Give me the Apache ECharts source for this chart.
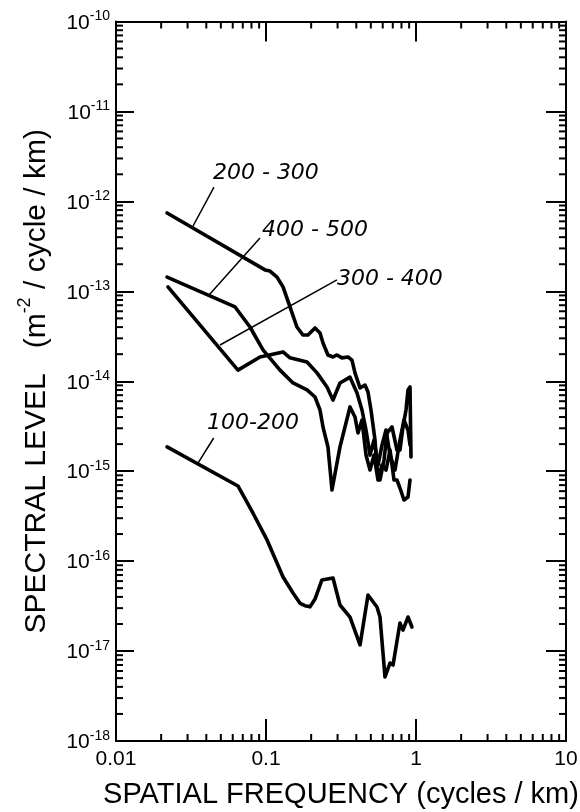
<!DOCTYPE html>
<html><head><meta charset="utf-8">
<script src="https://cdn.jsdelivr.net/npm/echarts@6/dist/echarts.min.js"></script>
<style>html,body{margin:0;padding:0;background:#fff}#c{width:580px;height:812px}</style>
</head><body><div id="c"></div>
<script>
// ---- data (spatial frequency in cycles/km, spectral level in m^-2/cycle/km) ----
const freq_100_200 = [0.0219,0.065,0.0818,0.1016,0.1184,0.1299,0.1514,0.1686,0.182,0.1965,0.2122,0.236,0.2797,0.3113,0.3631,0.4236,0.4786,0.5495,0.5754,0.6213,0.6714,0.7031,0.7818,0.8188,0.8844,0.9397];
const level_100_200 = [1.86e-15,6.85e-16,3.43e-16,1.72e-16,9.53e-17,6.67e-17,4.42e-17,3.4e-17,3.2e-17,3.1e-17,3.79e-17,6.17e-17,6.5e-17,3.25e-17,2.39e-17,1.17e-17,4.2e-17,3.09e-17,2.39e-17,5.15e-18,7.37e-18,7e-18,2.05e-17,1.71e-17,2.39e-17,1.85e-17];

const freq_200_300 = [0.0219,0.0985,0.1063,0.1184,0.1299,0.1445,0.1608,0.1763,0.1905,0.2122,0.2291,0.2399,0.2588,0.2797,0.2972,0.3212,0.3521,0.3743,0.3919,0.4236,0.4571,0.4786,0.5012,0.533,0.5495,0.5754,0.6119,0.6408,0.6918,0.7467,0.7818,0.8188,0.8577,0.8844,0.912,0.9261];
const level_200_300 = [7.43e-13,1.73e-13,1.68e-13,1.44e-13,1.12e-13,6.7e-14,4.01e-14,3.27e-14,3.27e-14,3.91e-14,3.44e-14,2.66e-14,1.96e-14,1.86e-14,1.96e-14,1.82e-14,1.86e-14,1.72e-14,1.24e-14,8.41e-15,9.08e-15,7.6e-15,4.79e-15,2.22e-15,1.11e-15,7.98e-16,1.33e-15,2.66e-15,3.1e-15,1.72e-15,1.72e-15,3.1e-15,4.79e-15,8e-15,8.63e-15,1.44e-15];

const freq_300_400 = [0.0222,0.065,0.0912,0.1299,0.1445,0.1877,0.2188,0.2551,0.2797,0.3113,0.3631,0.4043,0.4365,0.4642,0.4937,0.5248,0.558,0.5933,0.631,0.6714,0.7244,0.7818,0.8318,0.8844,0.912];
const level_300_400 = [1.12e-13,1.33e-14,1.86e-14,2.12e-14,1.82e-14,1.64e-14,1.24e-14,8.63e-15,6.18e-15,9.57e-15,1.11e-14,7.4e-15,4.79e-15,2.87e-15,1.51e-15,2.22e-15,1.17e-15,1.95e-15,2.87e-15,1.51e-15,1.03e-15,2.22e-15,3.71e-15,2.87e-15,1.95e-15];

const freq_400_500 = [0.0219,0.0622,0.0782,0.0955,0.124,0.1514,0.1877,0.2122,0.2291,0.2399,0.2588,0.2754,0.3113,0.3631,0.3919,0.4105,0.4365,0.4642,0.4937,0.5248,0.558,0.5933,0.631,0.6714,0.7135,0.7467,0.7818,0.8318,0.8844,0.912];
const level_400_500 = [1.44e-13,6.7e-14,4.01e-14,2.23e-14,1.33e-14,9.57e-15,8e-15,6.68e-15,4.79e-15,3.1e-15,1.86e-15,6.18e-16,1.86e-15,5.18e-15,4.01e-15,2.66e-15,3.71e-15,1.51e-15,1.03e-15,1.51e-15,7.98e-16,1.17e-15,1.03e-15,1.72e-15,7.98e-16,7.98e-16,6.5e-16,4.78e-16,5.17e-16,7.98e-16];

const seriesNames = ['100-200','200-300','300-400','400-500'];
const labelTexts = ['100-200','200 - 300','300 - 400','400 - 500'];
// leader line [freq1, level1, freq2, level2] and label anchor [freq, level]
const leaderLines = [
  [0.0352,1.23e-15,0.0448,2.34e-15],
  [0.0321,5.06e-13,0.045,1.44e-12],
  [0.0494,2.53e-14,0.2972,1.34e-13],
  [0.0417,9.1e-14,0.0912,3.92e-13]
];
const labelAnchors = [
  [0.0404,3.44e-15],
  [0.0443,2.07e-12],
  [0.2972,1.37e-13],
  [0.094,4.8e-13]
];

const xTickLabels = ['0.01','0.1','1','10'];
const xMin = 0.01, xMax = 10, yMin = 1e-18, yMax = 1e-10;
const minorMults = [2,3,4,5,6,7,8,9];
const xDecades = [0.01,0.1,1];
const yDecades = [1e-18,1e-17,1e-16,1e-15,1e-14,1e-13,1e-12,1e-11];

const pairs = (f, l) => f.map((v, i) => [v, l[i]]);
const seriesData = [
  pairs(freq_100_200, level_100_200),
  pairs(freq_200_300, level_200_300),
  pairs(freq_300_400, level_300_400),
  pairs(freq_400_500, level_400_500)
];

const minorData = [];
xDecades.forEach(d => minorMults.forEach(m => minorData.push([d*m, yMin, 0])));
yDecades.forEach(d => minorMults.forEach(m => minorData.push([xMin, d*m, 1])));

const BLACK = '#000';
const SANS = '"Liberation Sans", Arial, sans-serif';
const chart = echarts.init(document.getElementById('c'), null, {renderer:'canvas'});

const axisCommon = {
  type:'log', logBase:10,
  axisLine:{show:true, lineStyle:{color:BLACK, width:2}},
  splitLine:{show:false}, minorTick:{show:false}, minorSplitLine:{show:false}
};

const option = {
  animation:false,
  backgroundColor:'#fff',
  grid:{left:116, right:14, top:21.5, bottom:71, containLabel:false, outerBoundsMode:'none'},
  xAxis:[
    Object.assign({}, axisCommon, {
      position:'bottom', min:xMin, max:xMax, splitNumber:3,
      axisTick:{show:true, inside:true, length:22, lineStyle:{color:BLACK, width:2}},
      axisLabel:{show:true, margin:8, color:BLACK, fontFamily:SANS, fontSize:21,
        showMinLabel:true, showMaxLabel:true,
        formatter: v => xTickLabels[Math.round(Math.log10(v)) + 2]},
      name:'SPATIAL FREQUENCY (cycles / km)', nameLocation:'middle', nameGap:39,
      nameTextStyle:{color:BLACK, fontFamily:SANS, fontSize:29}
    }),
    Object.assign({}, axisCommon, {
      position:'top', min:xMin, max:xMax, splitNumber:3,
      axisTick:{show:true, inside:true, length:20, lineStyle:{color:BLACK, width:2}},
      axisLabel:{show:false}
    })
  ],
  yAxis:[
    Object.assign({}, axisCommon, {
      position:'left', min:yMin, max:yMax, splitNumber:8,
      axisTick:{show:true, inside:true, length:18, lineStyle:{color:BLACK, width:2}},
      axisLabel:{show:true, margin:6, color:BLACK, showMinLabel:true, showMaxLabel:true,
        formatter: v => '{b|10}{s|' + Math.round(Math.log10(v)) + '}',
        rich:{
          b:{fontFamily:SANS, fontSize:21, color:BLACK, lineHeight:24, verticalAlign:'bottom'},
          s:{fontFamily:SANS, fontSize:14, color:BLACK, lineHeight:24, verticalAlign:'top'}
        }},
      name:'{t|SPECTRAL LEVEL   (m}{s|-2}{t| / cycle / km)}', nameLocation:'middle', nameGap:64, nameRotate:90,
      nameTextStyle:{color:BLACK, rich:{
        t:{fontFamily:SANS, fontSize:30, color:BLACK, lineHeight:36, verticalAlign:'bottom'},
        s:{fontFamily:SANS, fontSize:18, color:BLACK, lineHeight:36, verticalAlign:'top'}
      }}
    }),
    Object.assign({}, axisCommon, {
      position:'right', min:yMin, max:yMax, splitNumber:8,
      axisTick:{show:true, inside:true, length:20, lineStyle:{color:BLACK, width:2}},
      axisLabel:{show:false}
    })
  ],
  series: [
    ...seriesData.map((d, i) => ({
      name:seriesNames[i], type:'line', xAxisIndex:0, yAxisIndex:0, data:d,
      showSymbol:false, symbol:'none', smooth:false, clip:false,
      lineStyle:{color:BLACK, width:3.6, join:'round', cap:'round'}
    })),
    {
      name:'minorTicks', type:'custom', xAxisIndex:0, yAxisIndex:0, data:minorData, clip:false, silent:true,
      encode:{x:0, y:1},
      renderItem:(params, api) => {
        const kind = api.value(2);
        const st = {stroke:BLACK, lineWidth:2};
        if (kind === 0) {
          const v = api.value(0);
          const b = api.coord([v, yMin]), t = api.coord([v, yMax]);
          return {type:'group', children:[
            {type:'line', shape:{x1:b[0], y1:b[1], x2:b[0], y2:b[1]-7}, style:st},
            {type:'line', shape:{x1:t[0], y1:t[1], x2:t[0], y2:t[1]+7}, style:st}
          ]};
        } else {
          const v = api.value(1);
          const l = api.coord([xMin, v]), r = api.coord([xMax, v]);
          return {type:'group', children:[
            {type:'line', shape:{x1:l[0], y1:l[1], x2:l[0]+7, y2:l[1]}, style:st},
            {type:'line', shape:{x1:r[0], y1:r[1], x2:r[0]-7, y2:r[1]}, style:st}
          ]};
        }
      }
    },
    {
      name:'annotations', type:'custom', xAxisIndex:0, yAxisIndex:0, clip:false, silent:true,
      data: leaderLines.map((l, i) => [l[0], l[1], l[2], l[3], labelAnchors[i][0], labelAnchors[i][1], i]),
      encode:{x:[0,2,4], y:[1,3,5]},
      renderItem:(params, api) => {
        const p1 = api.coord([api.value(0), api.value(1)]);
        const p2 = api.coord([api.value(2), api.value(3)]);
        const pt = api.coord([api.value(4), api.value(5)]);
        const idx = api.value(6);
        return {type:'group', children:[
          {type:'line', shape:{x1:p1[0], y1:p1[1], x2:p2[0], y2:p2[1]}, style:{stroke:BLACK, lineWidth:1.5}},
          {type:'text', x:pt[0], y:pt[1], style:{text:labelTexts[idx], fill:BLACK,
            font:'oblique 22px "DejaVu Sans", sans-serif', align:'left', verticalAlign:'middle'}}
        ]};
      }
    }
  ]
};
chart.setOption(option);
</script>
</body></html>
